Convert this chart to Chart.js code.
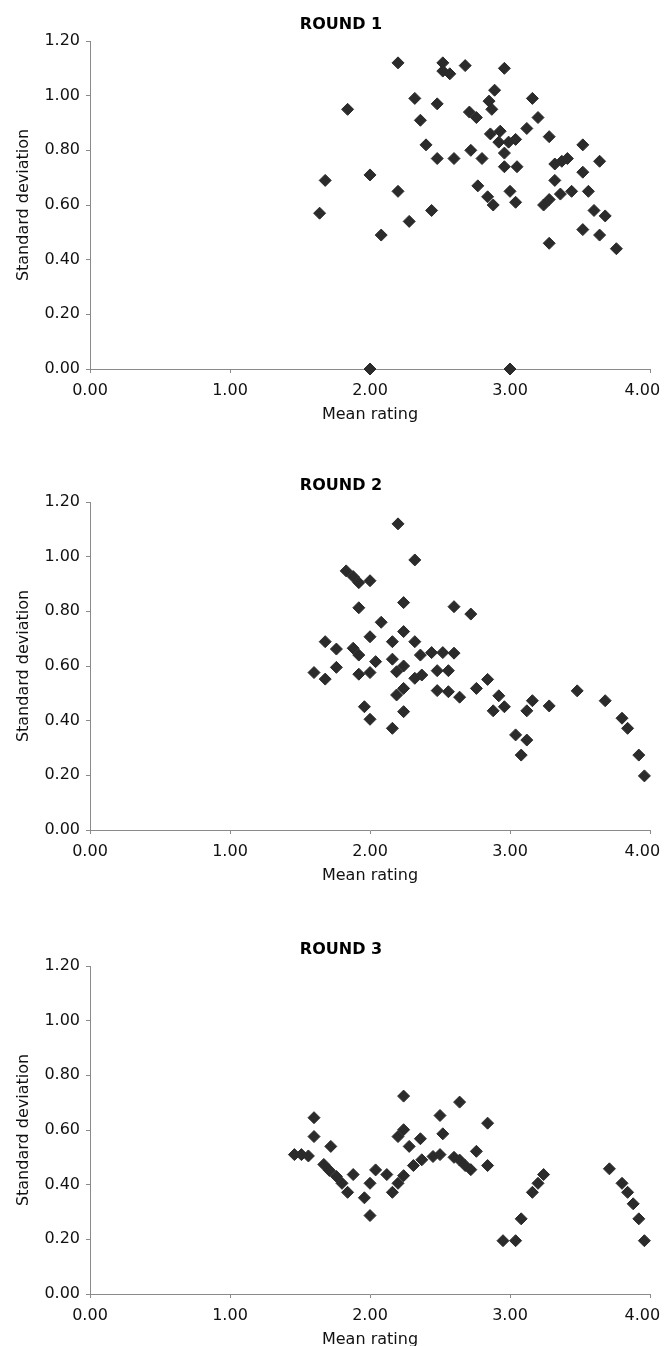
<!DOCTYPE html>
<html>
<head>
<meta charset="utf-8">
<script src="https://cdn.jsdelivr.net/npm/chart.js@4.4.1/dist/chart.umd.min.js"></script>
<style>
  html, body { margin: 0; padding: 0; background: #fff; overflow: hidden; width: 665px; height: 1346px; }
  .box { position: absolute; left: 0; width: 665px; height: 418px; }
</style>
</head>
<body>
<div class="box" style="top:11px"><canvas id="c1" width="665" height="418"></canvas></div>
<div class="box" style="top:472px"><canvas id="c2" width="665" height="418"></canvas></div>
<div class="box" style="top:936px"><canvas id="c3" width="665" height="418"></canvas></div>
<script>
// ---- Data ----
const titles = ['ROUND 1', 'ROUND 2', 'ROUND 3'];
const xAxisTitle = 'Mean rating';
const yAxisTitle = 'Standard deviation';
const xTickLabels = ['0.00', '1.00', '2.00', '3.00', '4.00'];
const yTickLabels = ['0.00', '0.20', '0.40', '0.60', '0.80', '1.00', '1.20'];

const r1Mean = [1.64,1.68,1.84,2.00,2.00,2.08,2.20,2.20,2.28,2.32,2.36,2.40,2.44,2.48,2.48,2.52,2.52,2.57,2.60,2.68,2.71,2.72,2.76,2.77,2.80,2.84,2.85,2.86,2.87,2.88,2.89,2.92,2.93,2.96,2.96,2.96,2.99,3.00,3.00,3.04,3.04,3.05,3.12,3.16,3.20,3.24,3.28,3.28,3.28,3.32,3.32,3.36,3.37,3.41,3.44,3.52,3.52,3.52,3.56,3.60,3.64,3.64,3.68,3.76];
const r1Sd   = [0.57,0.69,0.95,0.71,0.00,0.49,1.12,0.65,0.54,0.99,0.91,0.82,0.58,0.97,0.77,1.12,1.09,1.08,0.77,1.11,0.94,0.80,0.92,0.67,0.77,0.63,0.98,0.86,0.95,0.60,1.02,0.83,0.87,0.79,0.74,1.10,0.83,0.65,0.00,0.84,0.61,0.74,0.88,0.99,0.92,0.60,0.62,0.85,0.46,0.75,0.69,0.64,0.76,0.77,0.65,0.82,0.72,0.51,0.65,0.58,0.76,0.49,0.56,0.44];

const r2Mean = [1.60,1.68,1.68,1.76,1.76,1.83,1.88,1.88,1.92,1.92,1.92,1.92,1.96,2.00,2.00,2.00,2.00,2.04,2.08,2.16,2.16,2.16,2.19,2.19,2.20,2.24,2.24,2.24,2.24,2.24,2.32,2.32,2.32,2.36,2.37,2.44,2.48,2.48,2.52,2.56,2.56,2.60,2.60,2.64,2.72,2.76,2.84,2.88,2.92,2.96,3.04,3.08,3.12,3.12,3.16,3.28,3.48,3.68,3.80,3.84,3.92,3.96];
const r2Sd   = [0.576,0.689,0.552,0.662,0.595,0.948,0.927,0.665,0.905,0.813,0.640,0.570,0.451,0.912,0.707,0.576,0.405,0.616,0.760,0.689,0.625,0.372,0.579,0.494,1.120,0.832,0.726,0.600,0.518,0.433,0.988,0.689,0.555,0.640,0.567,0.649,0.583,0.510,0.649,0.583,0.506,0.817,0.647,0.486,0.790,0.518,0.551,0.436,0.491,0.451,0.348,0.274,0.436,0.329,0.473,0.454,0.509,0.473,0.409,0.372,0.274,0.198];

const r3Mean = [1.46,1.51,1.56,1.60,1.60,1.67,1.71,1.72,1.76,1.80,1.84,1.88,1.96,2.00,2.00,2.04,2.12,2.16,2.20,2.20,2.24,2.24,2.24,2.28,2.31,2.36,2.37,2.45,2.50,2.50,2.52,2.60,2.64,2.64,2.68,2.72,2.76,2.84,2.84,2.95,3.04,3.08,3.16,3.20,3.24,3.71,3.80,3.84,3.88,3.92,3.96];
const r3Sd   = [0.51,0.51,0.505,0.645,0.576,0.474,0.452,0.54,0.43,0.405,0.372,0.437,0.352,0.405,0.287,0.454,0.437,0.372,0.405,0.576,0.433,0.601,0.724,0.54,0.47,0.568,0.491,0.503,0.51,0.653,0.586,0.50,0.49,0.702,0.47,0.455,0.522,0.625,0.47,0.195,0.195,0.275,0.372,0.405,0.437,0.458,0.405,0.372,0.33,0.275,0.195];

const rounds = [
  { id: 'c1', title: titles[0], xs: r1Mean, ys: r1Sd },
  { id: 'c2', title: titles[1], xs: r2Mean, ys: r2Sd },
  { id: 'c3', title: titles[2], xs: r3Mean, ys: r3Sd }
];

// ---- Styling ----
Chart.defaults.font.family = "'DejaVu Sans', 'Liberation Sans', Arial, sans-serif";
Chart.defaults.font.size = 16;
Chart.defaults.color = '#111';
const axisGray = '#8a8a8a';
const markColor = '#2b2b2b';

function makeChart(r) {
  const pts = r.xs.map((x, i) => ({ x: x, y: r.ys[i] }));
  return new Chart(document.getElementById(r.id), {
    type: 'scatter',
    data: {
      datasets: [{
        data: pts,
        pointStyle: 'rectRot',
        pointRadius: 6,
        pointHoverRadius: 6,
        pointBorderWidth: 1,
        backgroundColor: markColor,
        borderColor: markColor,
        clip: false
      }]
    },
    options: {
      responsive: false,
      animation: false,
      events: [],
      layout: { padding: { left: 32, right: 15, top: 4, bottom: 4 } },
      plugins: {
        legend: { display: false },
        tooltip: { enabled: false },
        title: {
          display: true,
          text: r.title,
          color: '#000',
          font: { size: 16, weight: 'bold', lineHeight: '20px' },
          padding: { top: 0, bottom: 6 }
        }
      },
      scales: {
        x: {
          type: 'linear',
          min: 0, max: 4,
          grid: { display: true, drawOnChartArea: false, drawTicks: true, tickLength: 4, color: axisGray },
          border: { display: true, color: axisGray, width: 1 },
          ticks: {
            stepSize: 1,
            padding: 8,
            maxRotation: 0,
            font: { size: 16, lineHeight: '20px' },
            color: '#111',
            callback: function (v, i, arr) {
              const lbl = xTickLabels[i];
              return i === arr.length - 1 ? lbl + '   ' : lbl;
            }
          },
          title: {
            display: true,
            text: xAxisTitle,
            color: '#111',
            font: { size: 16, lineHeight: '20px' },
            padding: { top: 0, bottom: 0 }
          },
          afterFit: function (s) { s.height = 56; s.paddingRight = 0; }
        },
        y: {
          type: 'linear',
          min: 0, max: 1.2,
          grid: { display: true, drawOnChartArea: false, drawTicks: true, tickLength: 4, color: axisGray },
          border: { display: true, color: axisGray, width: 1 },
          ticks: {
            stepSize: 0.2,
            padding: 6,
            font: { size: 16, lineHeight: '20px' },
            color: '#111',
            callback: function (v, i) { return yTickLabels[i]; }
          },
          title: {
            display: true,
            text: yAxisTitle,
            color: '#111',
            font: { size: 16, lineHeight: '20px' },
            padding: { top: -18, bottom: 0 }
          },
          afterFit: function (s) { s.width = 58; }
        }
      }
    }
  });
}

rounds.forEach(makeChart);
</script>
</body>
</html>
